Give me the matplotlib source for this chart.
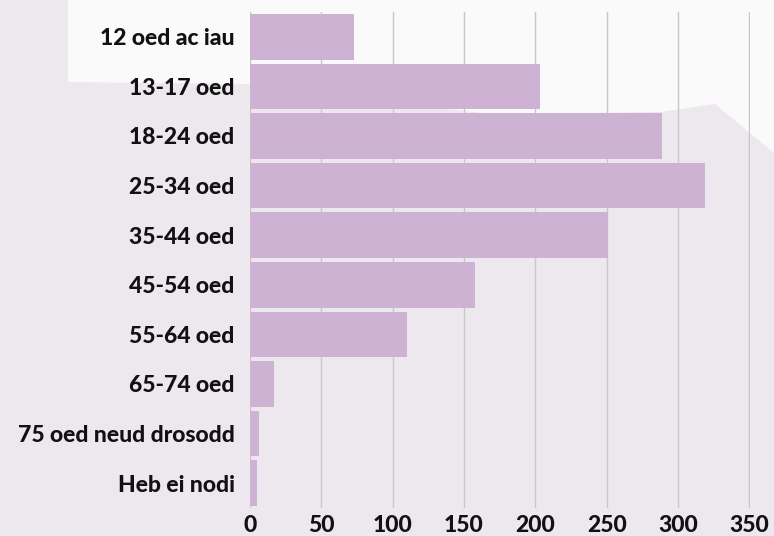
import numpy as np
import matplotlib.pyplot as plt
from matplotlib.patches import Polygon

# age groups and counts
categories = ['12 oed ac iau', '13-17 oed', '18-24 oed', '25-34 oed', '35-44 oed',
              '45-54 oed', '55-64 oed', '65-74 oed', '75 oed neud drosodd', 'Heb ei nodi']
values = [73, 203, 289, 319, 251, 158, 110, 17, 6, 5]
xticks = [0, 50, 100, 150, 200, 250, 300, 350]

W, H = 774, 536
fig = plt.figure(figsize=(W / 100, H / 100), dpi=100)
fig.patch.set_facecolor('#ede8ee')

# background axes for the white decorative shape (pixel coords, y down)
bg = fig.add_axes([0, 0, 1, 1], zorder=-1)
bg.set_xlim(0, W)
bg.set_ylim(H, 0)
bg.axis('off')
shape = [(68, 0), (774, 0), (774, 153), (715, 104), (660, 112), (490, 114),
         (250, 84), (68, 82)]
bg.add_patch(Polygon(shape, closed=True, facecolor='#fafafa', edgecolor='none'))

ax = fig.add_axes([250 / W, 1 - 508 / H, (750 - 250) / W, (508 - 12) / H])
ax.set_facecolor('none')

y = np.arange(len(categories))
ax.barh(y, values, height=0.92, color='#cdb2d4', zorder=3)

ax.set_xlim(0, 350.5)
ax.set_ylim(len(categories) - 0.5, -0.5)
ax.set_xticks(xticks)
ax.set_xticklabels([str(t) for t in xticks])
ax.set_yticks(y)
ax.set_yticklabels(categories)

ax.grid(axis='x', color='#c9c6ca', linewidth=1, zorder=1)
ax.grid(axis='y', visible=False)
for s in ax.spines.values():
    s.set_visible(False)
ax.tick_params(length=0)
ax.tick_params(axis='y', pad=11)
ax.tick_params(axis='x', pad=5)
for lbl in ax.get_xticklabels() + ax.get_yticklabels():
    lbl.set_fontfamily('Lato')
    lbl.set_fontweight('black')
    lbl.set_fontsize(16.5)
    lbl.set_color('#111111')

fig.savefig('out.png', dpi=100, facecolor=fig.get_facecolor())
